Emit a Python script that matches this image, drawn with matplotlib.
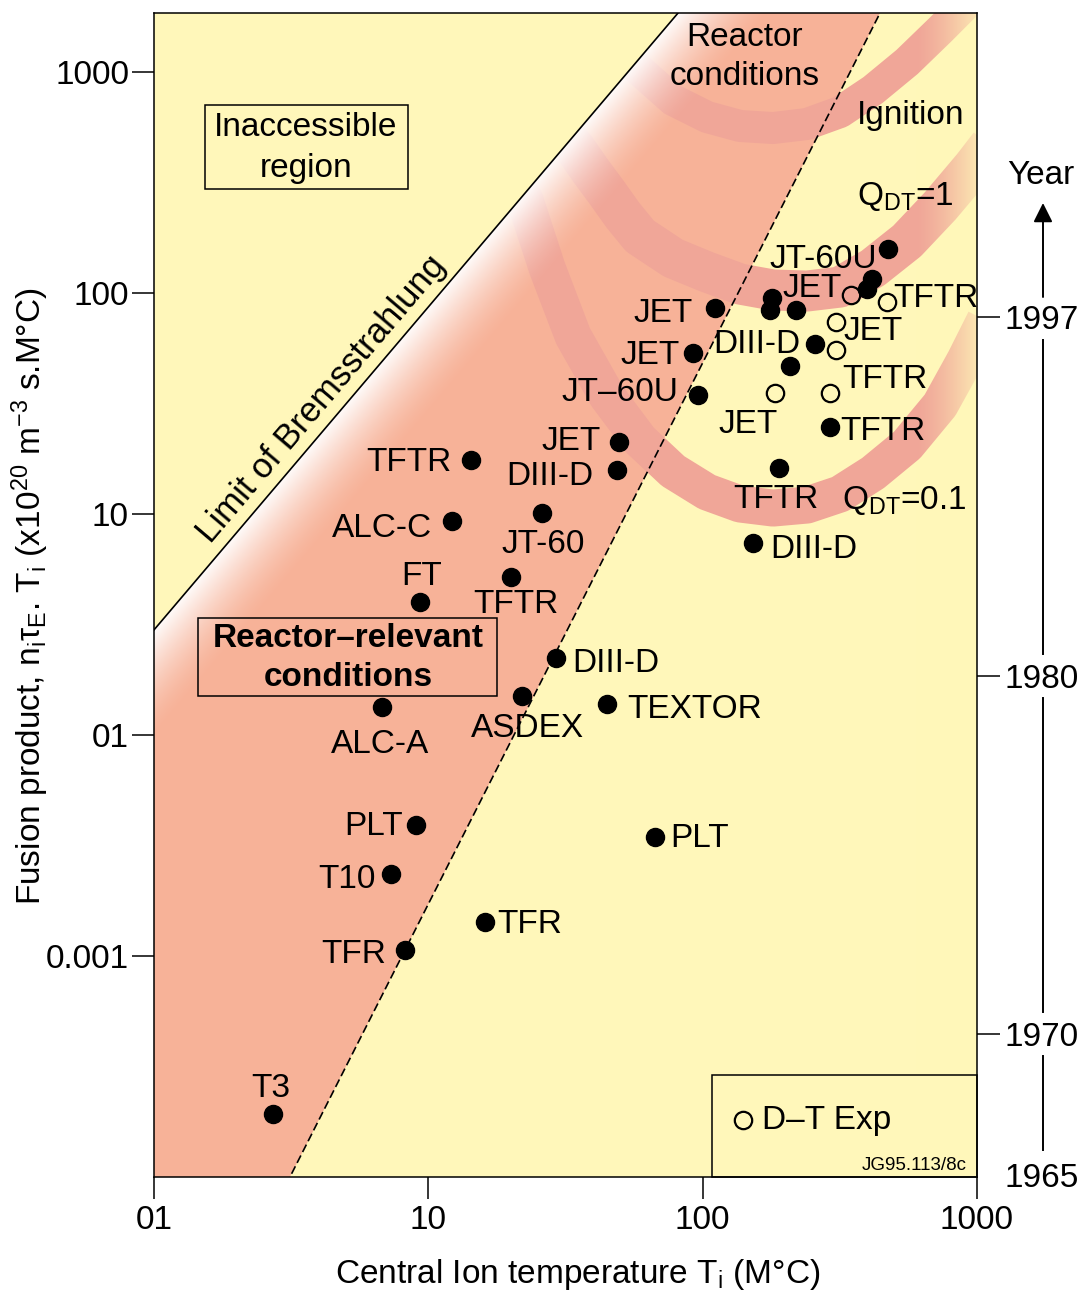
import numpy as np
import matplotlib
matplotlib.use("Agg")
import matplotlib.pyplot as plt
from matplotlib.patches import Rectangle, Polygon
from matplotlib.lines import Line2D
from matplotlib.ticker import NullLocator
from matplotlib.colors import to_rgb

plt.rcParams['font.family'] = ['Liberation Sans', 'DejaVu Sans']
plt.rcParams['mathtext.fontset'] = 'custom'
plt.rcParams['mathtext.rm'] = 'Liberation Sans'
plt.rcParams['mathtext.it'] = 'Liberation Sans:italic'
plt.rcParams['mathtext.bf'] = 'Liberation Sans:bold'

# ---------------- data ----------------
x_ticks = [1, 10, 100, 1000]
x_tick_labels = ['01', '10', '100', '1000']
y_ticks = [1000, 100, 10, 1, 0.1]
y_tick_labels = ['1000', '100', '10', '01', '0.001']
year_labels = ['1997', '1980', '1970', '1965']

filled_names = ['T3', 'TFR', 'TFR', 'T10', 'PLT', 'PLT', 'ALC-A', 'ASDEX', 'TEXTOR', 'DIII-D',
                'FT', 'TFTR', 'ALC-C', 'JT-60', 'TFTR', 'DIII-D', 'JET', 'JT\u201360U', 'JET', 'JET',
                'DIII-D', 'TFTR', 'TFTR', '', 'DIII-D', 'JET', '', '', '', '', 'JT-60U']
filled_T = [2.72, 8.22, 16.1, 7.31, 9.02, 67.0, 6.78, 21.9, 44.8, 29.2,
            9.32, 20.0, 12.2, 26.0, 14.3, 48.7, 49.5, 96.2, 92.2, 110.9,
            152.6, 189.8, 291.0, 208.0, 256.8, 178.9, 176.0, 218.9, 414.3, 397.2, 473.8]
filled_nT = [0.0193, 0.106, 0.1425, 0.235, 0.392, 0.346, 1.34, 1.50, 1.38, 2.23,
             4.0, 5.19, 9.3, 10.1, 17.5, 15.8, 21.2, 34.5, 53.5, 85.5,
             7.39, 16.2, 24.8, 46.7, 58.8, 94.9, 83.8, 83.8, 115.7, 104.3, 158.2]

open_names = ['', 'TFTR', 'JET', '', 'JET', 'TFTR']
open_T = [347.3, 469.9, 306.3, 306.3, 183.5, 291.2]
open_nT = [97.9, 91.1, 73.9, 55.2, 35.3, 35.3]

# Bremsstrahlung limit and reactor-relevant boundary (end points of straight log-log lines)
brems_T = [1.0, 81.3]
brems_nT = [2.99, 1849.0]
boundary_T = [3.13, 443.0]
boundary_nT = [0.01, 1849.0]

# Bands: ignition, Q_DT = 1, Q_DT = 0.1
arc_ign_T = [53.4, 57.6, 78.0, 103.7, 136.8, 180.5, 240.1, 316.8, 417.8, 555.7, 733.4, 904.4, 1070]
arc_ign_nT = [1157, 1043, 747, 626, 570, 558, 582, 659, 829, 1110, 1549, 2010, 2608]
arc_q1_T = [31.8, 34.2, 38.9, 44.8, 51.2, 59.1, 78.0, 103.7, 136.8, 180.5, 240.1, 316.8,
            417.8, 555.7, 733.4, 967, 1115]
arc_q1_nT = [503, 453, 360, 284, 225, 181, 144, 124.5, 109.8, 103.2, 102.1, 106.4,
             129.8, 171.9, 247.5, 371.6, 467.3]
arc_q01_T = [21.2, 22.5, 27.1, 33.7, 44.8, 59.1, 78.0, 103.7, 136.8, 180.5, 240.1, 316.8,
             417.8, 555.7, 733.4, 904.4, 1070]
arc_q01_nT = [292.5, 263.6, 129.8, 63.9, 34.2, 21.6, 15.65, 12.58, 11.10, 10.64, 10.98, 12.32,
              15.33, 20.52, 31.1, 49.8, 75.5]

# ---------------- layout / style ----------------
YELLOW = '#fff7ba'
SALMON = '#f7b298'
PINK = '#f0a698'
FW, FH = 1086, 1290
AX_L, AX_T, AX_R, AX_B = 154, 13, 977, 1177

filled_label_offsets = [
    (-2, 17, 'center'), (-19, -13, 'right'), (12, -11, 'left'), (-15, -14, 'right'),
    (-13, -10, 'right'), (15, -10, 'left'), (-2, -46, 'center'), (6, -41, 'center'),
    (20, -14, 'left'), (16, -14, 'left'),
    (2, 17, 'center'), (5, -36, 'center'), (-20, -16, 'right'), (1, -40, 'center'),
    (-19, -11, 'right'), (-24, -15, 'right'), (-18, -8, 'right'), (-20, -6, 'right'),
    (-13, -11, 'right'), (-22, -14, 'right'),
    (17, -15, 'left'), (-3, -40, 'center'), (10, -13, 'left'), None, (-15, -9, 'right'),
    (11, 1, 'left'), None, None, None, None, (-11, -19, 'right'),
]
open_label_offsets = [None, (6, -5, 'left'), (7, -18, 'left'), None, (-27, -40, 'center'),
                      (12, 5, 'left')]


def axf(px, py):
    return ((px - AX_L) / (AX_R - AX_L), (AX_B - py) / (AX_B - AX_T))


def figf(px, py):
    return (px / FW, 1 - py / FH)


def powerline(Ts, Ys):
    s = np.log10(Ys[1] / Ys[0]) / np.log10(Ts[1] / Ts[0])
    return lambda T: Ys[0] * (np.asarray(T) / Ts[0]) ** s


fig = plt.figure(figsize=(FW / 100, FH / 100), dpi=100)
ax = fig.add_axes([AX_L / FW, 1 - AX_B / FH, (AX_R - AX_L) / FW, (AX_B - AX_T) / FH])
ax.set_xscale('log')
ax.set_yscale('log')
ax.set_xlim(1, 1000)
ax.set_ylim(0.01, 1850)
ax.set_facecolor(YELLOW)

brems = powerline(brems_T, brems_nT)
bound = powerline(boundary_T, boundary_nT)

# reactor-relevant region
Tg = np.geomspace(0.5, 3000, 800)
ax.fill_between(Tg, bound(Tg), brems(Tg), where=brems(Tg) > bound(Tg),
                color=SALMON, lw=0, zorder=1)

# clip region: accessible side of Bremsstrahlung line
slope_b = np.log10(brems_nT[1] / brems_nT[0]) / np.log10(brems_T[1] / brems_T[0])
T_hi = brems_T[0] * (1e6 / brems_nT[0]) ** (1 / slope_b)
clip_poly = Polygon([(0.5, float(brems(0.5))), (T_hi, 1e6), (1e6, 1e6), (1e6, 1e-6), (0.5, 1e-6)],
                    closed=True, transform=ax.transData)

for Ts, Ys, wpx in [(arc_ign_T, arc_ign_nT, 32), (arc_q1_T, arc_q1_nT, 41),
                    (arc_q01_T, arc_q01_nT, 37)]:
    ln, = ax.plot(Ts, Ys, color=PINK, lw=wpx * 0.72, solid_joinstyle='round',
                  solid_capstyle='butt', zorder=1.5)
    ln.set_clip_path(clip_poly)

# overlays: white glow next to the Bremsstrahlung line, fade at the right edge
bb = ax.bbox
W = int(round(bb.width))
H = int(round(bb.height))
GX, GY = np.meshgrid(bb.x0 + np.arange(W) + 0.5, bb.y0 + np.arange(H) + 0.5)
p0 = ax.transData.transform((brems_T[0], brems_nT[0]))
p1 = ax.transData.transform((brems_T[1], brems_nT[1]))
u = (p1 - p0) / np.hypot(*(p1 - p0))
nrm = np.array([u[1], -u[0]])
dist = (GX - p0[0]) * nrm[0] + (GY - p0[1]) * nrm[1]
glow = np.where(dist >= 0, np.clip(1 - dist / 70.0, 0, 1), 0.0) ** 1.5
img = np.ones((H, W, 4))
img[..., 3] = 0.96 * glow
ax.imshow(img, extent=(0, 1, 0, 1), transform=ax.transAxes, origin='lower',
          interpolation='bilinear', aspect='auto', zorder=2)
ramp = np.clip((GX - (bb.x1 - 62)) / 62.0, 0, 1) ** 1.4 * 0.8
img2 = np.zeros((H, W, 4))
img2[..., :3] = to_rgb(YELLOW)
img2[..., 3] = ramp
ax.imshow(img2, extent=(0, 1, 0, 1), transform=ax.transAxes, origin='lower',
          interpolation='bilinear', aspect='auto', zorder=2)
ax.set_xlim(1, 1000)
ax.set_ylim(0.01, 1850)

# lines
Tl = np.array([0.5, 200.0])
ax.plot(Tl, brems(Tl), color='black', lw=1.2, zorder=3)
Tl2 = np.array([2.0, 800.0])
ax.plot(Tl2, bound(Tl2), color='black', lw=1.2, ls=(0, (5, 2.3)), zorder=3)

# points
ax.plot(filled_T, filled_nT, 'o', ls='none', ms=13, color='black', zorder=4)
ax.plot(open_T, open_nT, 'o', ls='none', ms=12.5, mfc='none', mec='black', mew=1.6, zorder=4)

for names, Ts, Ys, offs in [(filled_names, filled_T, filled_nT, filled_label_offsets),
                            (open_names, open_T, open_nT, open_label_offsets)]:
    for nm, t, y, off in zip(names, Ts, Ys, offs):
        if not nm or off is None:
            continue
        dx, dy, ha = off
        ax.annotate(nm, xy=(t, y), xytext=(dx, dy), textcoords='offset pixels',
                    ha=ha, va='baseline', fontsize=24, zorder=5)

# Bremsstrahlung label
ang = np.degrees(np.arctan2(p1[1] - p0[1], p1[0] - p0[0]))
Tb = 10 ** ((338 - AX_L) / ((AX_R - AX_L) / 3))
ax.annotate('Limit of Bremsstrahlung', xy=(Tb, float(brems(Tb))), xytext=(-16, 14),
            textcoords='offset pixels', ha='center', va='center', rotation=ang,
            rotation_mode='anchor', fontsize=25, zorder=5)

# boxes and region texts
def add_box(x0, y0, x1, y1, fc='none'):
    a0 = axf(x0, y1)
    a1 = axf(x1, y0)
    ax.add_patch(Rectangle(a0, a1[0] - a0[0], a1[1] - a0[1], transform=ax.transAxes,
                           fc=fc, ec='black', lw=1.1, zorder=3, clip_on=False))

add_box(205, 105, 408, 189)
ax.text(*axf(306, 148), 'Inaccessible\nregion', transform=ax.transAxes, ha='center',
        va='center', fontsize=24, linespacing=1.42, zorder=5)
add_box(198, 618, 497, 696)
ax.text(*axf(348, 658), 'Reactor\u2013relevant\nconditions', transform=ax.transAxes,
        ha='center', va='center', fontsize=24, fontweight='bold', linespacing=1.35, zorder=5)
ax.text(*axf(745, 57), 'Reactor\nconditions', transform=ax.transAxes, ha='center',
        va='center', fontsize=24, linespacing=1.32, zorder=5)
ax.text(*axf(857, 124), 'Ignition', transform=ax.transAxes, ha='left', va='baseline',
        fontsize=24, zorder=5)
ax.text(*axf(857, 205), 'Q$_\\mathregular{DT}$=1', transform=ax.transAxes, ha='left',
        va='baseline', fontsize=24, zorder=5)
ax.text(*axf(842, 509), 'Q$_\\mathregular{DT}$=0.1', transform=ax.transAxes, ha='left',
        va='baseline', fontsize=24, zorder=5)

# legend box
add_box(712, 1075, 977, 1177, fc=YELLOW)
ax.plot(*axf(743, 1120), 'o', transform=ax.transAxes, ms=12.5, mfc='none', mec='black',
        mew=1.6, clip_on=False, zorder=5)
ax.text(*axf(762, 1120), 'D\u2013T Exp', transform=ax.transAxes, ha='left',
        va='center', fontsize=24, zorder=5)
ax.text(*axf(967, 1165), 'JG95.113/8c', transform=ax.transAxes, ha='right',
        va='center', fontsize=13.5, zorder=5)

# axes styling
ax.xaxis.set_minor_locator(NullLocator())
ax.yaxis.set_minor_locator(NullLocator())
ax.set_xticks(x_ticks, labels=x_tick_labels)
ax.set_yticks(y_ticks, labels=y_tick_labels)
ax.tick_params(axis='both', direction='out', length=16, width=1.1, labelsize=24)
ax.tick_params(axis='x', pad=4)
ax.tick_params(axis='y', pad=2)
for s in ax.spines.values():
    s.set_linewidth(1.1)
    s.set_zorder(6)

ax.set_xlabel('Central Ion temperature T$_\\mathregular{i}$ (M\u00b0C)', fontsize=24)
ax.xaxis.set_label_coords(*axf(578, 1257))
ax.set_ylabel('Fusion product, n$_\\mathregular{i}$\u03c4$_\\mathregular{E}$. T$_\\mathregular{i}$ '
              '(x10$^\\mathregular{20}$ m$^\\mathregular{\u22123}$ s.M\u00b0C)', fontsize=24)
ax.yaxis.set_label_coords(*axf(51, 596))

# year scale on the right
ax2 = ax.twinx()
ax2.set_ylim(0, 1)
year_pos = [axf(0, py)[1] for py in (317, 676, 1034, 1175)]
ax2.set_yticks(year_pos, labels=year_labels)
ax2.yaxis.set_minor_locator(NullLocator())
ax2.tick_params(axis='y', direction='out', length=16.5, width=1.1, labelsize=24, pad=3.5)
ax2.yaxis.get_major_ticks()[3].tick2line.set_visible(False)
for s in ax2.spines.values():
    s.set_visible(False)

xY = 1043
for y0, y1 in [(340, 654), (698, 1012), (1056, 1150)]:
    fig.add_artist(Line2D([xY / FW, xY / FW], [1 - y0 / FH, 1 - y1 / FH],
                          transform=fig.transFigure, color='black', lw=1.4))
fig.add_artist(matplotlib.patches.FancyArrowPatch(
    figf(xY, 297), figf(xY, 203), transform=fig.transFigure,
    arrowstyle='-|>,head_length=0.4,head_width=0.2', mutation_scale=29,
    color='black', lw=1.4, shrinkA=0, shrinkB=0))
fig.text(*figf(1041, 176), 'Year', ha='center', va='center', fontsize=24)

fig.savefig('out.png', dpi=100)
